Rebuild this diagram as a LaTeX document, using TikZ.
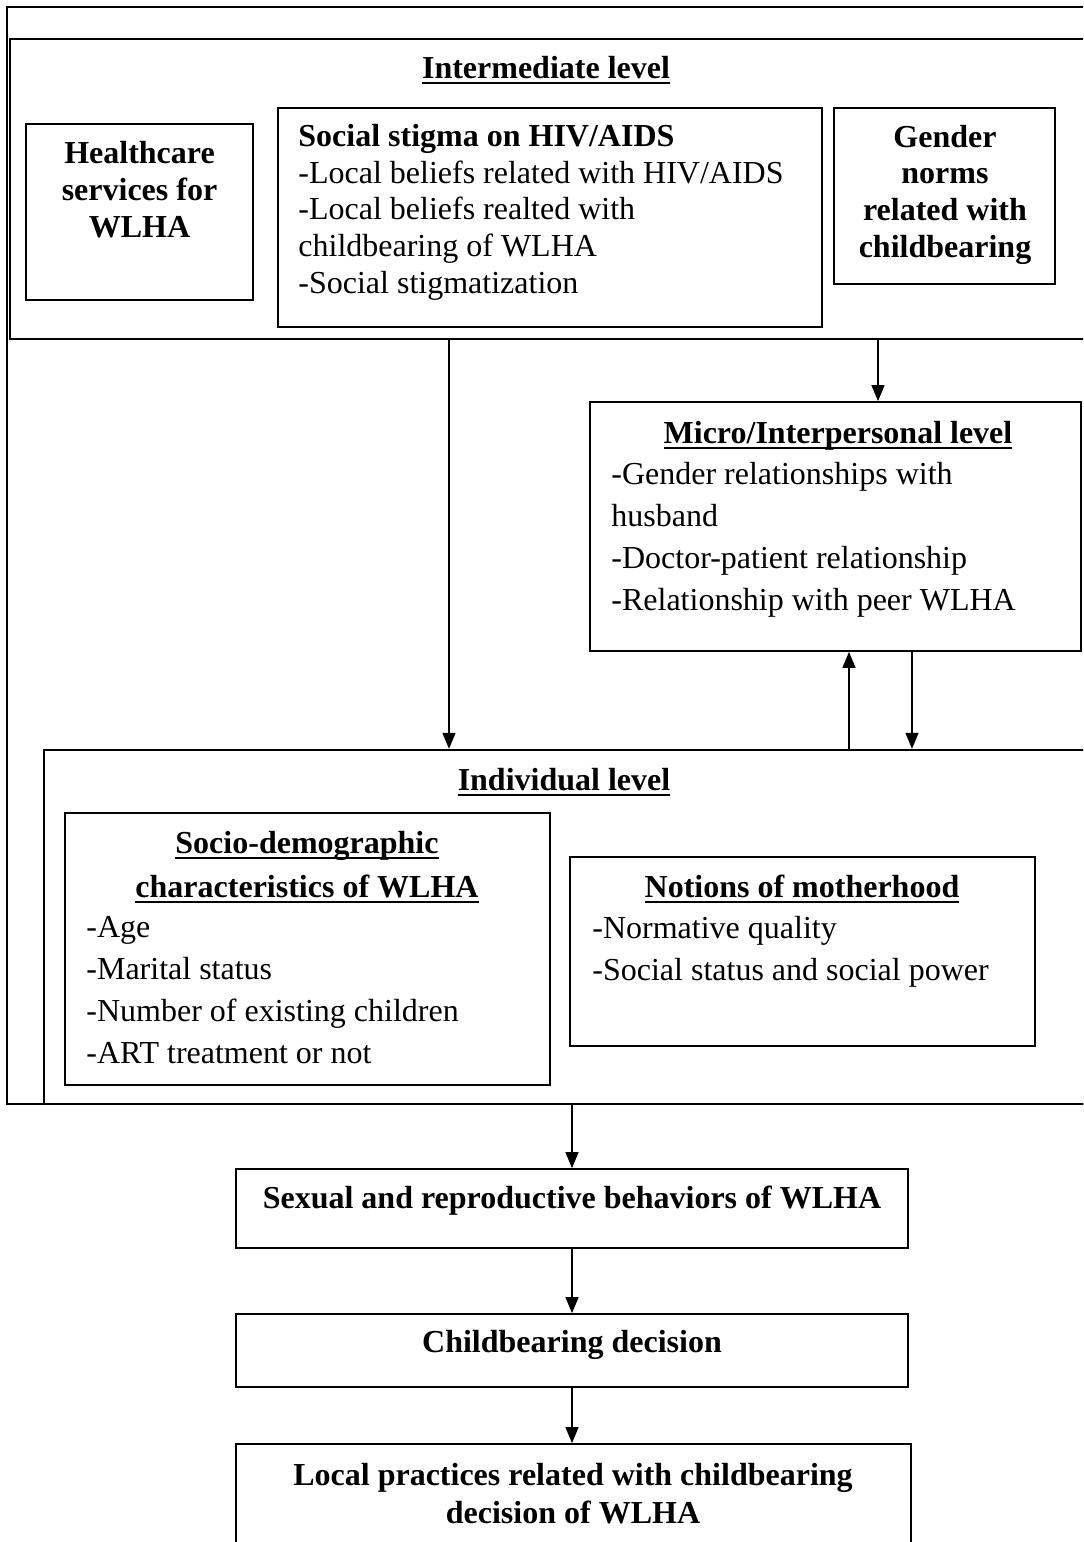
\documentclass[tikz,border=0pt]{standalone}
\usepackage{fontspec}
\setmainfont{Liberation Serif}
\usetikzlibrary{arrows.meta,positioning,fit}

% bold heading with a thick underline
\newcommand{\ulhead}[1]{\setbox0=\hbox{\bfseries #1}\leavevmode\rlap{\rule[-3pt]{\wd0}{1.1pt}}\box0}

\begin{document}
\begin{tikzpicture}[
        x=0.5pt, y=-0.5pt,
        frame/.style={draw, line width=0.6pt, inner sep=0pt},
        level/.style={draw, line width=1.2pt, inner sep=0pt},
        box/.style={draw, line width=0.9pt, inner sep=0pt},
        txt/.style={inner sep=0pt, font=\fontsize{16}{18.3}\selectfont},
        wide/.style={inner sep=0pt, font=\fontsize{16}{20.9}\selectfont},
        arr/.style={-{Triangle[length=8pt,width=6.5pt]}, line width=0.75pt},
    ]
        \useasboundingbox (0,0) rectangle (1083,1542);
        \clip (0,0) rectangle (1083,1542);

        % frames of the levels
        \node[frame, fit={(7,7) (1100,1104)}] (outerFrame) {};
        \node[level, fit={(10,39) (1100,339)}] (interBox) {};
        \node[level, fit={(44,750) (1100,1104)}] (indivBox) {};

        % intermediate level (base = last line)
        \node[txt, anchor=base] (interHead) at (546,78) {\ulhead{Intermediate level}};

        \node[box, fit={(26,124) (253,300)}] (healthBox) {};
        \node[txt, anchor=base, align=center] (healthText) at (139.5,237)
            {\bfseries Healthcare\\\bfseries services for\\\bfseries WLHA};

        \node[box, fit={(278,108) (822,327)}] (stigmaBox) {};
        \node[txt, anchor=base west, align=left] (stigmaText) at (298,293)
            {{\bfseries Social stigma on HIV/AIDS}\\
             -Local beliefs related with HIV/AIDS\\
             -Local beliefs realted with\\
             childbearing of WLHA\\
             -Social stigmatization};

        \node[box, fit={(834,108) (1055,284)}] (genderBox) {};
        \node[txt, anchor=base, align=center] (genderText) at (945,257)
            {\bfseries Gender\\\bfseries norms\\\bfseries related with\\\bfseries childbearing};

        % micro level
        \node[box, fit={(590,402) (1081,651)}] (microBox) {};
        \node[txt, anchor=base] (microHead) at (838,443) {\ulhead{Micro/Interpersonal level}};
        \node[wide, anchor=base west, align=left] (microText) at (611,610)
            {-Gender relationships with\\
             husband\\
             -Doctor-patient relationship\\
             -Relationship with peer WLHA};

        % individual level
        \node[txt, anchor=base] (indivHead) at (564,790) {\ulhead{Individual level}};

        \node[box, fit={(65,813) (550,1085)}] (socioBox) {};
        \node[wide, anchor=base, align=center] (socioHead) at (307,897)
            {\ulhead{Socio-demographic}\\[1.1pt]\ulhead{characteristics of WLHA}};
        \node[wide, anchor=base west, align=left] (socioText) at (86,1063)
            {-Age\\
             -Marital status\\
             -Number of existing children\\
             -ART treatment or not};

        \node[box, fit={(570,857) (1035,1046)}] (motherBox) {};
        \node[txt, anchor=base] (motherHead) at (802,897) {\ulhead{Notions of motherhood}};
        \node[wide, anchor=base west, align=left] (motherText) at (592,980)
            {-Normative quality\\
             -Social status and social power};

        % outcomes
        \node[box, fit={(236,1169) (908,1248)}] (sexBox) {};
        \node[txt, anchor=base] (sexText) at (572,1208) {\bfseries Sexual and reproductive behaviors of WLHA};

        \node[box, fit={(236,1314) (908,1387)}] (decisionBox) {};
        \node[txt, anchor=base] (decisionText) at (572,1352) {\bfseries Childbearing decision};

        \node[box, fit={(236,1444) (911,1580)}] (localBox) {};
        \node[txt, anchor=base, align=center, font=\fontsize{16}{19}\selectfont] (localText) at (573,1523)
            {\bfseries Local practices related with childbearing\\\bfseries decision of WLHA};

        % connectors
        \draw[arr] (interBox.south -| 449,0) -- (indivBox.north -| 449,0);
        \draw[arr] (interBox.south -| 878,0) -- (microBox.north -| 878,0);
        \draw[arr] (indivBox.north -| 849,0) -- (microBox.south -| 849,0);
        \draw[arr] (microBox.south -| 912,0) -- (indivBox.north -| 912,0);
        \draw[arr] (indivBox.south -| sexBox.north) -- (sexBox.north);
        \draw[arr] (sexBox.south) -- (decisionBox.north);
        \draw[arr] (decisionBox.south) -- (localBox.north -| decisionBox.south);
    \end{tikzpicture}
\end{document}
